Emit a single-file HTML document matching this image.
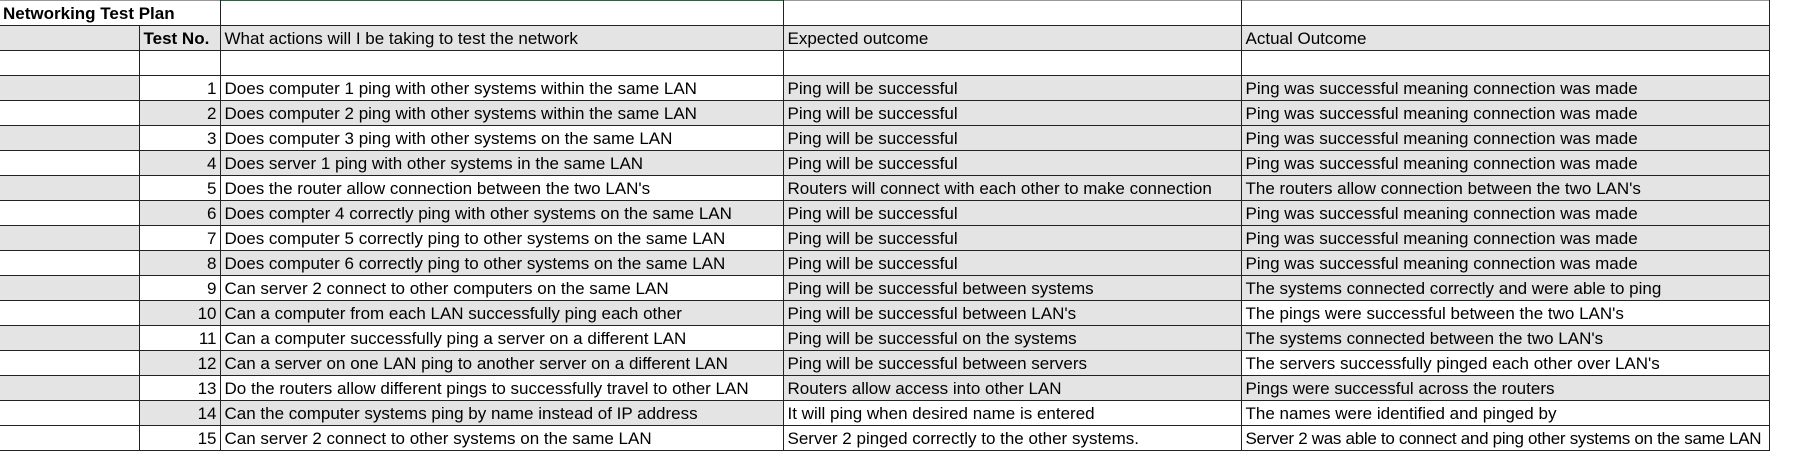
<!DOCTYPE html>
<html><head><meta charset="utf-8"><style>
html,body{margin:0;padding:0;background:#fff;width:1804px;height:451px;overflow:hidden}
table{border-collapse:collapse;table-layout:fixed;width:1769px;position:absolute;left:0;top:0;font-family:"Liberation Sans",Arial,sans-serif;font-size:17px;color:#000}
td{height:24px;border:1px solid #222;padding:0 4px;white-space:nowrap;overflow:hidden;vertical-align:bottom;line-height:22px}
td.a{border-left:none}
td.n{text-align:right;padding-right:3px}
.g{background:#e4e4e4}
tr.top td{border-top:1px solid #999}
</style></head><body>
<table>
<colgroup><col style="width:139px"><col style="width:81px"><col style="width:563px"><col style="width:458px"><col style="width:528px"></colgroup>
<tr class="top"><td class="a" colspan="2" style="font-weight:bold;padding-left:3px">Networking Test Plan</td><td style="border-top:1px solid #1e6b36"></td><td></td><td></td></tr>
<tr><td class="a g"></td><td class="g" style="font-weight:bold">Test No.</td><td class="g">What actions will I be taking to test the network</td><td class="g">Expected outcome</td><td class="g">Actual Outcome</td></tr>
<tr><td class="a"></td><td></td><td></td><td></td><td></td></tr>
<tr><td class="a g"></td><td class="n">1</td><td>Does computer 1 ping with other systems within the same LAN</td><td class="g">Ping will be successful</td><td class="g">Ping was successful meaning connection was made</td></tr>
<tr><td class="a"></td><td class="n g">2</td><td class="g">Does computer 2 ping with other systems within the same LAN</td><td class="g">Ping will be successful</td><td class="g">Ping was successful meaning connection was made</td></tr>
<tr><td class="a g"></td><td class="n">3</td><td>Does computer 3 ping with other systems on the same LAN</td><td class="g">Ping will be successful</td><td class="g">Ping was successful meaning connection was made</td></tr>
<tr><td class="a"></td><td class="n g">4</td><td class="g">Does server 1 ping with other systems in the same LAN</td><td class="g">Ping will be successful</td><td class="g">Ping was successful meaning connection was made</td></tr>
<tr><td class="a g"></td><td class="n">5</td><td>Does the router allow connection between the two LAN's</td><td class="g">Routers will connect with each other to make connection</td><td class="g">The routers allow connection between the two LAN's</td></tr>
<tr><td class="a"></td><td class="n g">6</td><td class="g">Does compter 4 correctly ping with other systems on the same LAN</td><td class="g">Ping will be successful</td><td class="g">Ping was successful meaning connection was made</td></tr>
<tr><td class="a g"></td><td class="n">7</td><td>Does computer 5 correctly ping to other systems on the same LAN</td><td class="g">Ping will be successful</td><td class="g">Ping was successful meaning connection was made</td></tr>
<tr><td class="a"></td><td class="n g">8</td><td class="g">Does computer 6 correctly ping to other systems on the same LAN</td><td class="g">Ping will be successful</td><td class="g">Ping was successful meaning connection was made</td></tr>
<tr><td class="a g"></td><td class="n">9</td><td>Can server 2 connect to other computers on the same LAN</td><td class="g">Ping will be successful between systems</td><td class="g">The systems connected correctly and were able to ping</td></tr>
<tr><td class="a"></td><td class="n g">10</td><td class="g">Can a computer from each LAN successfully ping each other</td><td class="g">Ping will be successful between LAN's</td><td>The pings were successful between the two LAN's</td></tr>
<tr><td class="a g"></td><td class="n">11</td><td>Can a computer successfully ping a server on a different LAN</td><td class="g">Ping will be successful on the systems</td><td class="g">The systems connected between the two LAN's</td></tr>
<tr><td class="a"></td><td class="n g">12</td><td class="g">Can a server on one LAN ping to another server on a different LAN</td><td class="g">Ping will be successful between servers</td><td>The servers successfully pinged each other over LAN's</td></tr>
<tr><td class="a g"></td><td class="n">13</td><td>Do the routers allow different pings to successfully travel to other LAN</td><td class="g">Routers allow access into other LAN</td><td class="g">Pings were successful across the routers</td></tr>
<tr><td class="a"></td><td class="n g">14</td><td class="g">Can the computer systems ping by name instead of IP address</td><td>It will ping when desired name is entered</td><td>The names were identified and pinged by</td></tr>
<tr><td class="a"></td><td class="n">15</td><td>Can server 2 connect to other systems on the same LAN</td><td>Server 2 pinged correctly to the other systems.</td><td style="letter-spacing:-0.3px">Server 2 was able to connect and ping other systems on the same LAN</td></tr>
</table>
</body></html>
